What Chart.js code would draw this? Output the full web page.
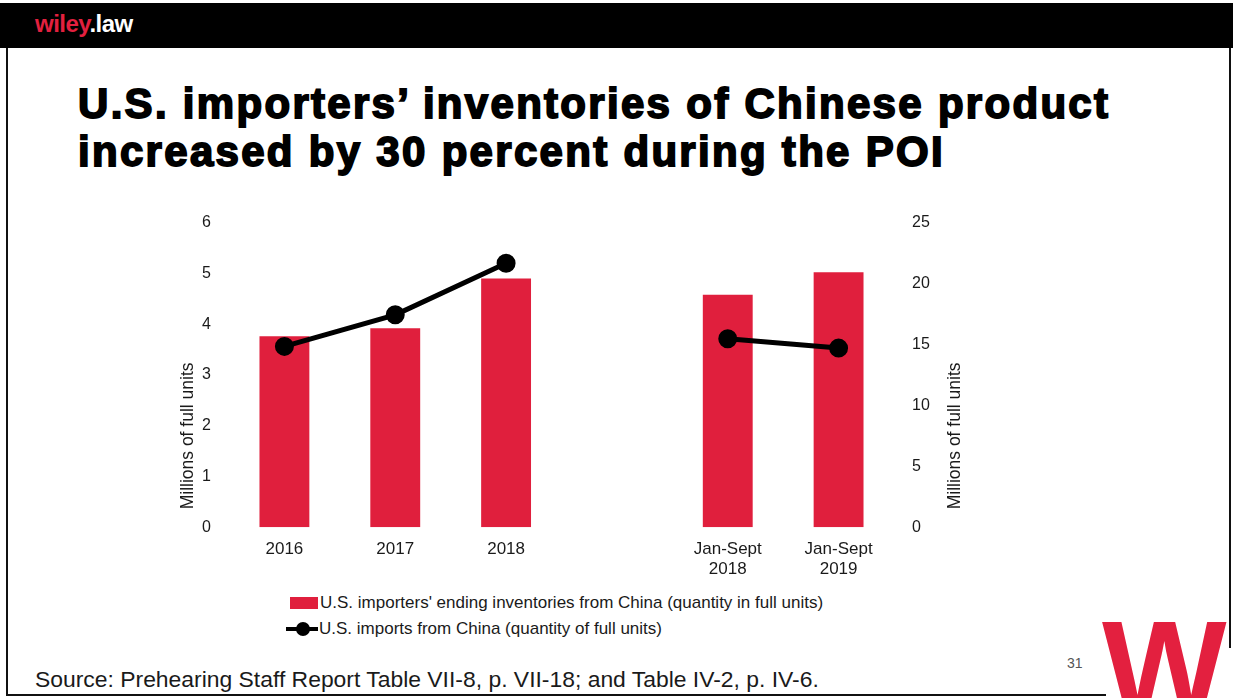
<!DOCTYPE html>
<html>
<head>
<meta charset="utf-8">
<script src="https://cdn.jsdelivr.net/npm/chart.js@4.4.1/dist/chart.umd.min.js"></script>
<style>
  html,body{margin:0;padding:0;background:#fff;}
  body{width:1233px;height:698px;position:relative;overflow:hidden;font-family:"Liberation Sans",Arial,sans-serif;color:#1a1a1a;}
  #topbar{position:absolute;left:0;top:3px;width:1233px;height:45px;background:#000;}
  #brand{position:absolute;left:35px;top:10px;font-size:24px;font-weight:bold;letter-spacing:-0.5px;}
  #brand .w{color:#e3203f;}
  #brand .l{color:#fff;}
  #frameL{position:absolute;left:6px;top:48px;width:2px;height:648px;background:#111;}
  #frameR{position:absolute;left:1229px;top:48px;width:2px;height:600px;background:#111;}
  #frameB{position:absolute;left:6px;top:694px;width:1100px;height:2px;background:#111;}
  #title{position:absolute;left:78px;top:80px;font-size:42px;line-height:48px;font-weight:bold;color:#000;-webkit-text-stroke:1.8px #000;letter-spacing:2.3px;white-space:nowrap;}
  #wrap{position:absolute;left:170px;top:203px;width:800px;height:381px;}
  #legend{position:absolute;left:286px;top:590px;font-size:17px;color:#1a1a1a;}
  .row{height:26px;line-height:26px;white-space:nowrap;}
  .sw{display:inline-block;vertical-align:middle;}
  .bar{width:28px;height:12px;margin-left:4px;margin-right:2px;position:relative;top:-1px;}
  .ln{width:32px;height:4px;background:#000;position:relative;top:-1px;margin-right:1px;}
  .ln::after{content:"";position:absolute;left:10px;top:-5px;width:14px;height:14px;border-radius:50%;background:#000;}
  #source{position:absolute;left:35px;top:666px;font-size:22.9px;color:#1a1a1a;white-space:nowrap;}
  #page{position:absolute;left:1067px;top:655px;font-size:14px;color:#555;}
  #logo{position:absolute;left:1100px;top:612px;width:133px;height:86px;overflow:hidden;}
  #logo span{position:absolute;left:2px;top:-20px;font-size:132px;font-weight:bold;color:#e3203f;letter-spacing:-4px;}
</style>
</head>
<body>
<div id="topbar"></div>
<div id="brand"><span class="w">wiley</span><span class="l">.law</span></div>
<div id="frameL"></div>
<div id="frameR"></div>
<div id="frameB"></div>
<div id="title">U.S. importers’ inventories of Chinese product<br>increased by 30 percent during the POI</div>
<div id="wrap"><canvas id="chart"></canvas></div>
<div id="legend"></div>
<div id="source">Source: Prehearing Staff Report Table VII-8, p. VII-18; and Table IV-2, p. IV-6.</div>
<div id="page">31</div>
<div id="logo"><span>W</span></div>
<script>
// periods; the empty slot keeps the full years apart from the interim ones
const periods=[['2016'],['2017'],['2018'],[''],['Jan-Sept','2018'],['Jan-Sept','2019']];
// ending inventories, millions of full units (left axis)
const inventories=[3.76,3.92,4.90,null,4.58,5.02];
// imports, millions of full units (right axis)
const imports=[14.84,17.43,21.66,null,15.47,14.70];
const leftTicks=[0,1,2,3,4,5,6];
const rightTicks=[0,5,10,15,20,25];

const invLabel="U.S. importers' ending inventories from China (quantity in full units)";
const impLabel='U.S. imports from China (quantity of full units)';
const axisTitle='Millions of full units';
const red='#e01f3d';
const ink='#1a1a1a';
const fam='"Liberation Sans", Arial, sans-serif';
const font={family:fam,size:16};

// both axis titles read bottom-to-top and sit low, so draw them here instead of scale.title
const axisTitles={
  id:'axisTitles',
  afterDraw(c){
    const g=c.ctx, a=c.chartArea, mid=(a.top+a.bottom)/2+61;
    g.save();
    g.fillStyle=ink;
    g.font='17.5px '+fam;
    g.textAlign='center';
    g.textBaseline='middle';
    [a.left-41,a.right+61].forEach(x=>{
      g.save();
      g.translate(x,mid);
      g.rotate(-Math.PI/2);
      g.fillText(axisTitle,0,0);
      g.restore();
    });
    g.restore();
  }
};

const ctx=document.getElementById('chart');
const chart=new Chart(ctx,{
  data:{
    labels:periods,
    datasets:[
      {type:'line',label:impLabel,data:imports,yAxisID:'yR',borderColor:'#000',backgroundColor:'#000',
       borderWidth:5,pointRadius:7,pointHoverRadius:7,pointBackgroundColor:'#000',spanGaps:false,order:0},
      {type:'bar',label:invLabel,data:inventories,yAxisID:'yL',backgroundColor:red,
       barPercentage:0.9,categoryPercentage:0.5,order:1}
    ]
  },
  options:{
    responsive:true,maintainAspectRatio:false,animation:false,
    layout:{padding:{top:6,left:0,right:0,bottom:0}},
    plugins:{legend:{display:false},tooltip:{enabled:false}},
    scales:{
      x:{grid:{display:false},border:{display:false},
         ticks:{color:ink,font:{...font,size:17},padding:4,maxRotation:0,autoSkip:false}},
      yL:{position:'left',min:0,max:6,grid:{display:false},border:{display:false},
          afterBuildTicks:a=>{a.ticks=leftTicks.map(v=>({value:v}));},
          afterFit:a=>{a.width=59;},
          ticks:{color:ink,font,padding:10}},
      yR:{position:'right',min:0,max:25,grid:{display:false},border:{display:false},
          afterBuildTicks:a=>{a.ticks=rightTicks.map(v=>({value:v}));},
          afterFit:a=>{a.width=76;},
          ticks:{color:ink,font,padding:10}}
    }
  },
  plugins:[axisTitles]
});

// legend below the plot, left aligned like the rows in the deck
const lg=document.getElementById('legend');
lg.innerHTML=
  `<div class="row"><span class="sw bar" style="background:${red}"></span>${invLabel}</div>`+
  `<div class="row"><span class="sw ln"></span>${impLabel}</div>`;
</script>
</body>
</html>
